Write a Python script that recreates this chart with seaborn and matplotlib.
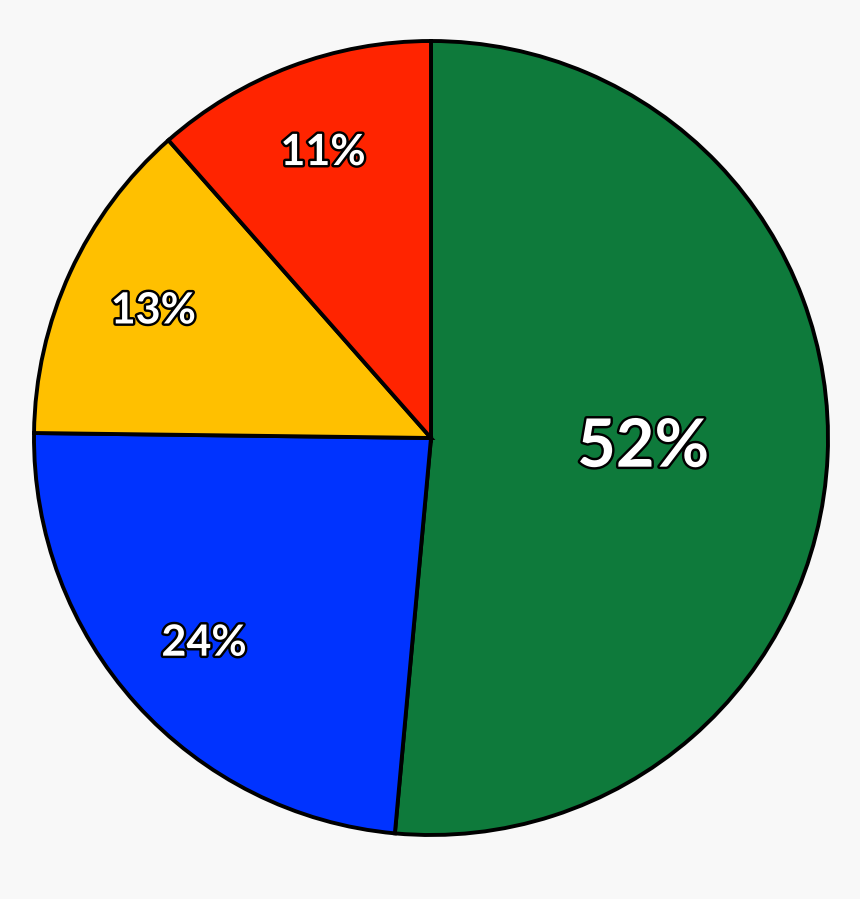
import matplotlib
matplotlib.use("Agg")
import matplotlib.pyplot as plt
import matplotlib.patheffects as pe
import seaborn as sns

# Data
categories = ["Green", "Blue", "Yellow", "Red"]
shares = [51.45, 23.75, 13.3, 11.5]
labels = ["52%", "24%", "13%", "11%"]
colors = ["#0E7A3B", "#0033FF", "#FFC000", "#FF2400"]

sns.set_theme(style="white")
plt.rcParams["font.family"] = ["Lato", "DejaVu Sans"]

fig = plt.figure(figsize=(8.6, 8.99), dpi=100, facecolor="#F8F8F8")
ax = fig.add_axes([0, 0, 1, 1])
ax.set_facecolor("#F8F8F8")

wedges, texts = ax.pie(
    shares,
    colors=colors,
    startangle=90,
    counterclock=False,
    labels=labels,
    labeldistance=0.77,
    wedgeprops=dict(edgecolor="black", linewidth=2.8),
    textprops=dict(color="white", fontsize=31, fontweight="bold",
                   ha="center", va="center"),
)

stroke = [pe.withStroke(linewidth=3.5, foreground="black")]
for i, t in enumerate(texts):
    t.set_path_effects(stroke)
    t.set_ha("center")
    t.set_va("center")
    if i == 0:
        x, y = t.get_position()
        t.set_position((x * 0.535 / 0.77, y * 0.535 / 0.77))
        t.set_fontsize(48)

ax.set_xlim(-431 / 397, (860 - 431) / 397)
ax.set_ylim(-461 / 397, (899 - 461) / 397)
ax.set_aspect("auto")
ax.axis("off")

fig.savefig("out.png", dpi=100, facecolor="#F8F8F8")
